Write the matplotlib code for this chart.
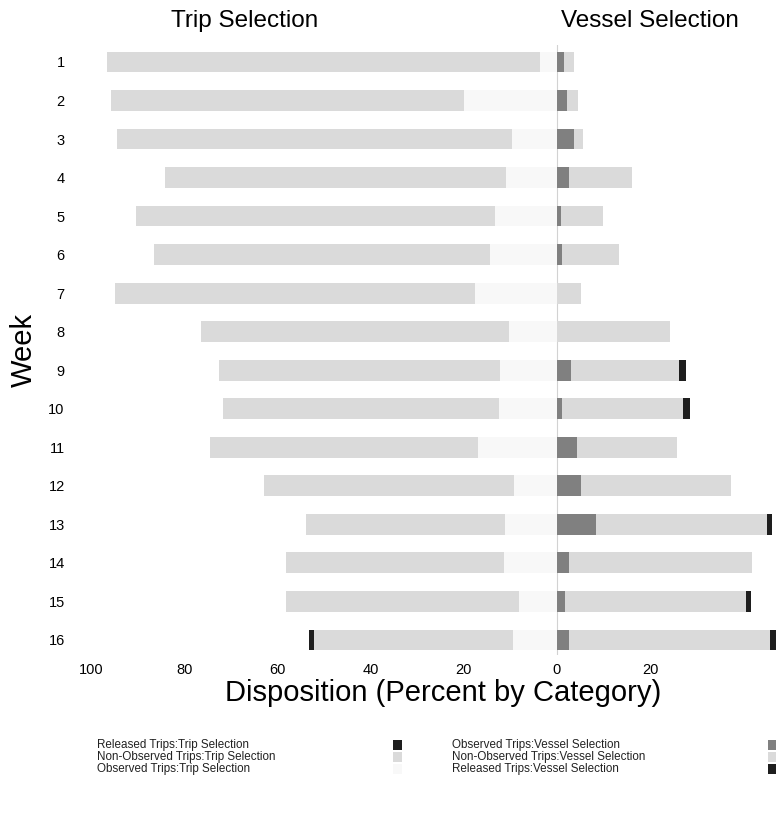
import matplotlib
matplotlib.use("Agg")
import matplotlib.pyplot as plt
from matplotlib.patches import Rectangle
import numpy as np

plt.rcParams['font.family'] = ['Liberation Sans', 'DejaVu Sans']

# Semanas
weeks = list(range(1, 17))

# Trip Selection (percentuais, desenhados para a esquerda)
trip_observed = [3.7, 19.9, 9.7, 11.0, 13.3, 14.4, 17.6, 10.3, 12.3, 12.4, 16.9, 9.2, 11.2, 11.4, 8.1, 9.4]
trip_non_observed = [93.1, 75.9, 84.8, 73.3, 77.2, 72.2, 77.4, 66.1, 60.3, 59.4, 57.7, 53.7, 42.8, 46.9, 50.2, 42.9]
trip_released = [0, 0, 0, 0, 0, 0, 0, 0, 0, 0, 0, 0, 0, 0, 0, 1.0]

# Vessel Selection (percentuais, desenhados para a direita)
vessel_observed = [1.5, 2.1, 3.7, 2.7, 0.9, 1.2, 0, 0, 3.0, 1.2, 4.4, 5.2, 8.4, 2.7, 1.8, 2.7]
vessel_non_observed = [2.1, 2.5, 2.0, 13.4, 8.9, 12.2, 5.1, 24.2, 23.3, 26.0, 21.4, 32.2, 36.7, 39.2, 38.8, 43.1]
vessel_released = [0, 0, 0, 0, 0, 0, 0, 0, 1.4, 1.4, 0, 0, 1.1, 0, 1.1, 2.0]

x_ticks = [-100, -80, -60, -40, -20, 0, 20]

W, H = 776, 817
fig = plt.figure(figsize=(W / 100, H / 100), dpi=100)
ax = fig.add_axes([73 / W, 1 - 655 / H, 704 / W, 610 / H])

y = np.array(weeks)
t_obs = np.array(trip_observed)
t_non = np.array(trip_non_observed)
t_rel = np.array(trip_released)
v_obs = np.array(vessel_observed)
v_non = np.array(vessel_non_observed)
v_rel = np.array(vessel_released)

h = 0.54
c_light = '#dadada'
c_vlight = '#f8f8f8'
c_mid = '#808080'
c_dark = '#1e1e1e'

b1 = ax.barh(y, -t_rel, left=-(t_obs + t_non), height=h, color=c_dark, label='Released Trips:Trip Selection')
b2 = ax.barh(y, -t_non, left=-t_obs, height=h, color=c_light, label='Non-Observed Trips:Trip Selection')
b3 = ax.barh(y, -t_obs, height=h, color=c_vlight, label='Observed Trips:Trip Selection')

b4 = ax.barh(y, v_obs, height=h, color=c_mid, label='Observed Trips:Vessel Selection')
b5 = ax.barh(y, v_non, left=v_obs, height=h, color=c_light, label='Non-Observed Trips:Vessel Selection')
b6 = ax.barh(y, v_rel, left=v_obs + v_non, height=h, color=c_dark, label='Released Trips:Vessel Selection')

ax.axvline(0, color='#d2d2d2', lw=0.8, zorder=0)

ax.set_xlim(-104, 47.3)
ax.set_ylim(16.39, 0.56)
ax.set_xticks(x_ticks)
ax.set_xticklabels([str(abs(v)) for v in x_ticks])
ax.set_yticks(weeks)
ax.set_yticklabels([str(w) for w in weeks])
ax.tick_params(axis='both', length=0, labelsize=10.5)
ax.tick_params(axis='x', pad=6)
ax.tick_params(axis='y', pad=6)
for s in ax.spines.values():
    s.set_visible(False)

ax.set_xlabel('Disposition (Percent by Category)', fontsize=21)
ax.xaxis.set_label_coords((443 - 73) / 704, -(679 - 655) / 610)
ax.set_ylabel('Week', fontsize=21)
ax.yaxis.set_label_coords(-(73 - 38) / 704, (655 - 350) / 610)

fig.text(245 / W, 1 - 21 / H, 'Trip Selection', fontsize=17.5, ha='center', va='center')
fig.text(650 / W, 1 - 21 / H, 'Vessel Selection', fontsize=17.5, ha='center', va='center')

# legenda manual: texto a esquerda, quadrado a direita
legend_cols = [([b1, b2, b3], 97, 393), ([b4, b5, b6], 452, 768)]
for handles, tx, px in legend_cols:
    for i, b in enumerate(handles):
        yc = 745 + i * 12
        fig.text(tx / W, 1 - yc / H, b.get_label(), fontsize=8.4, ha='left', va='center', color='#222222')
        fig.patches.append(Rectangle((px / W, 1 - (yc + 5) / H), 9 / W, 10 / H,
                                     transform=fig.transFigure, facecolor=b.patches[0].get_facecolor(),
                                     edgecolor='none'))

fig.savefig('out.png', dpi=100)
